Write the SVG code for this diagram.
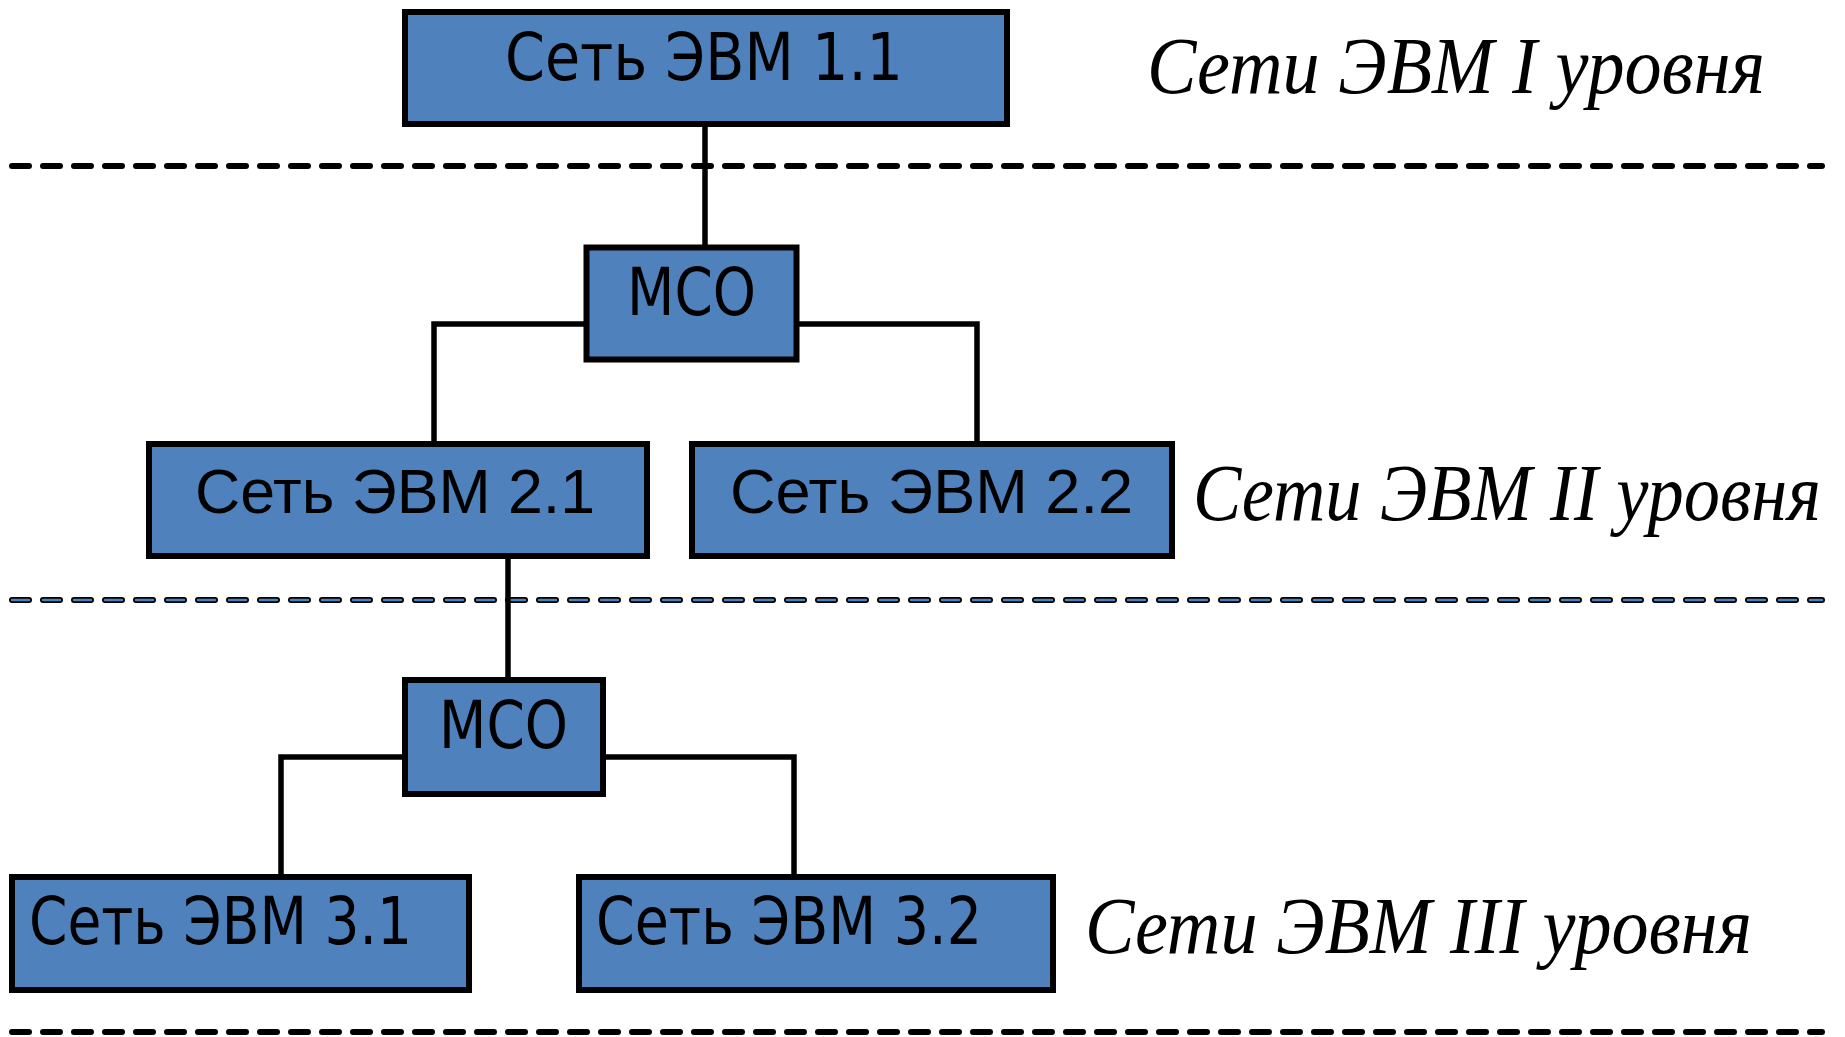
<svg xmlns="http://www.w3.org/2000/svg" width="1845" height="1037" viewBox="0 0 1845 1037">
  <style>
    .box { fill: #4f81bd; stroke: #000; stroke-width: 6; }
    .lbl { font-family: "DejaVu Sans", "Liberation Sans", sans-serif; font-size: 65px; fill: #000; }
    .lbl2 { font-family: "Liberation Sans", Arial, sans-serif; font-size: 63px; fill: #000; }
    .lvl { font-family: "Liberation Serif", "Times New Roman", serif; font-style: italic; font-size: 80px; fill: #000; }
    .wire { fill: none; stroke: #000; stroke-width: 5.5; }
    .sep { fill: none; stroke: #000; stroke-width: 6; stroke-linecap: round; stroke-dasharray: 17 14; }
    .sep-in { fill: none; stroke: #4f81bd; stroke-width: 2.5; stroke-linecap: round; stroke-dasharray: 17 14; }
  </style>

  <!-- level separators -->
  <g id="separators">
    <line class="sep" x1="12" y1="166" x2="1822" y2="166"/>
    <line class="sep" x1="12" y1="600" x2="1822" y2="600"/>
    <line class="sep-in" x1="12" y1="600" x2="1822" y2="600"/>
    <line class="sep" x1="12" y1="1032" x2="1822" y2="1032"/>
  </g>

  <!-- connectors -->
  <g id="connectors">
    <line class="wire" x1="705" y1="127" x2="705" y2="245"/>
    <polyline class="wire" points="586,324 434,324 434,441"/>
    <polyline class="wire" points="797,324 977,324 977,441"/>
    <line class="wire" x1="508" y1="559" x2="508" y2="678"/>
    <polyline class="wire" points="402,757 281,757 281,874"/>
    <polyline class="wire" points="606,757 794,757 794,874"/>
  </g>

  <!-- level 1 -->
  <g id="net-1-1">
    <rect class="box" x="405" y="12" width="602" height="112"/>
    <text class="lbl" x="505" y="80" textLength="398" lengthAdjust="spacingAndGlyphs">Сеть ЭВМ 1.1</text>
  </g>
  <g id="mso-1">
    <rect class="box" x="586.5" y="247.5" width="210" height="112"/>
    <text class="lbl" x="627" y="315" textLength="129" lengthAdjust="spacingAndGlyphs">МСО</text>
  </g>

  <!-- level 2 -->
  <g id="net-2-1">
    <rect class="box" x="149" y="444" width="498" height="112"/>
    <text class="lbl2" x="195" y="513" textLength="400" lengthAdjust="spacingAndGlyphs">Сеть ЭВМ 2.1</text>
  </g>
  <g id="net-2-2">
    <rect class="box" x="692" y="444" width="480" height="112"/>
    <text class="lbl2" x="730" y="513" textLength="403" lengthAdjust="spacingAndGlyphs">Сеть ЭВМ 2.2</text>
  </g>
  <g id="mso-2">
    <rect class="box" x="405" y="680" width="198" height="114"/>
    <text class="lbl" x="439" y="748" textLength="129" lengthAdjust="spacingAndGlyphs">МСО</text>
  </g>

  <!-- level 3 -->
  <g id="net-3-1">
    <rect class="box" x="12" y="877" width="457" height="113"/>
    <text class="lbl" x="29" y="944" textLength="383" lengthAdjust="spacingAndGlyphs">Сеть ЭВМ 3.1</text>
  </g>
  <g id="net-3-2">
    <rect class="box" x="579" y="877" width="474" height="113"/>
    <text class="lbl" x="596" y="944" textLength="386" lengthAdjust="spacingAndGlyphs">Сеть ЭВМ 3.2</text>
  </g>

  <!-- level captions -->
  <g id="captions">
    <text class="lvl" x="1147" y="93" textLength="618" lengthAdjust="spacingAndGlyphs">Сети ЭВМ I уровня</text>
    <text class="lvl" x="1193" y="520" textLength="628" lengthAdjust="spacingAndGlyphs">Сети ЭВМ II уровня</text>
    <text class="lvl" x="1085" y="953" textLength="667" lengthAdjust="spacingAndGlyphs">Сети ЭВМ III уровня</text>
  </g>
</svg>
